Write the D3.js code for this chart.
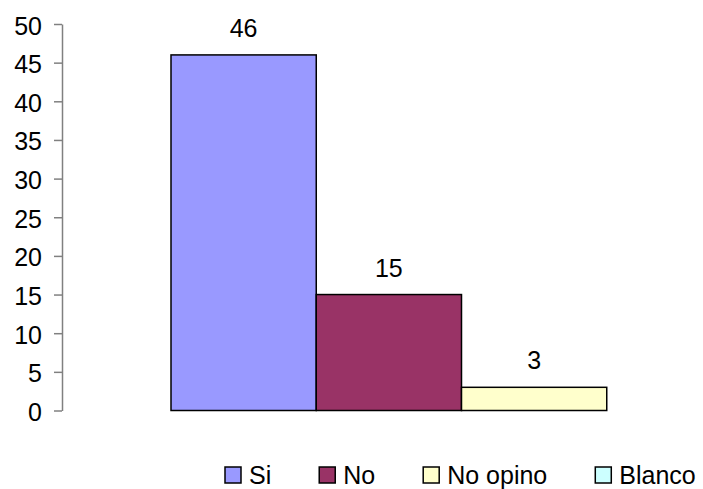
<!DOCTYPE html>
<meta charset="utf-8">
<style>
body {
  margin: 0;
  background-color: #fff;
}
svg text {
  font-family: "Liberation Sans", Arial, sans-serif;
  fill: #000;
}
.axis path,
.axis line {
  fill: none;
  stroke: #808080;
  stroke-width: 1.5px;
}
.axis text {
  font-size: 25px;
}
.bar {
  stroke: #000;
  stroke-width: 1.5px;
}
.barLabel {
  font-size: 25px;
}
.legend text {
  font-size: 25px;
}
</style>
<svg class="chart" width="703" height="489"></svg>

<script src="https://cdn.jsdelivr.net/npm/d3@7"></script>
<script>
// data
var categories = ["Si", "No", "No opino", "Blanco"];
var values = [46, 15, 3, 0];
var colors = ["#9999FF", "#993366", "#FFFFCC", "#CCFFFF"];
var yTicks = [0, 5, 10, 15, 20, 25, 30, 35, 40, 45, 50];

var svg = d3.select(".chart");

var data = categories.map(function(c, i) {
  return {name: c, value: values[i], color: colors[i]};
});

var y = d3.scaleLinear().domain([0, 50]).range([410.5, 24]);
var x = d3.scaleBand().domain(categories).range([171, 752]).paddingInner(0).paddingOuter(0);

// y axis
svg.append("g")
    .attr("class", "axis")
    .attr("transform", "translate(62,0)")
    .call(d3.axisLeft(y).tickValues(yTicks).tickSize(8).tickSizeOuter(0).tickPadding(12))
    .call(function(g) { g.selectAll("text").attr("dy", "0.4em"); });

// bars
svg.selectAll(".bar")
    .data(data)
  .enter().append("rect")
    .attr("class", "bar")
    .attr("x", function(d) { return x(d.name); })
    .attr("y", function(d) { return y(d.value); })
    .attr("width", x.bandwidth())
    .attr("height", function(d) { return y(0) - y(d.value); })
    .style("fill", function(d) { return d.color; });

// value labels (zero values get none)
svg.selectAll(".barLabel")
    .data(data.filter(function(d) { return d.value > 0; }))
  .enter().append("text")
    .attr("class", "barLabel")
    .attr("text-anchor", "middle")
    .attr("x", function(d) { return x(d.name) + x.bandwidth() / 2; })
    .attr("y", function(d) { return y(d.value) - 18; })
    .text(function(d) { return d.value; });

// legend, laid out left to right
var legend = svg.append("g").attr("class", "legend");
var lx = 225;
data.forEach(function(d) {
  var item = legend.append("g").attr("transform", "translate(" + lx + ",0)");
  item.append("rect")
      .attr("x", 0)
      .attr("y", 467)
      .attr("width", 16)
      .attr("height", 16)
      .style("fill", d.color)
      .style("stroke", "#000")
      .style("stroke-width", 1.5);
  var t = item.append("text")
      .attr("x", 24)
      .attr("y", 484)
      .text(d.name);
  lx += 24 + t.node().getComputedTextLength() + 48;
});
</script>
